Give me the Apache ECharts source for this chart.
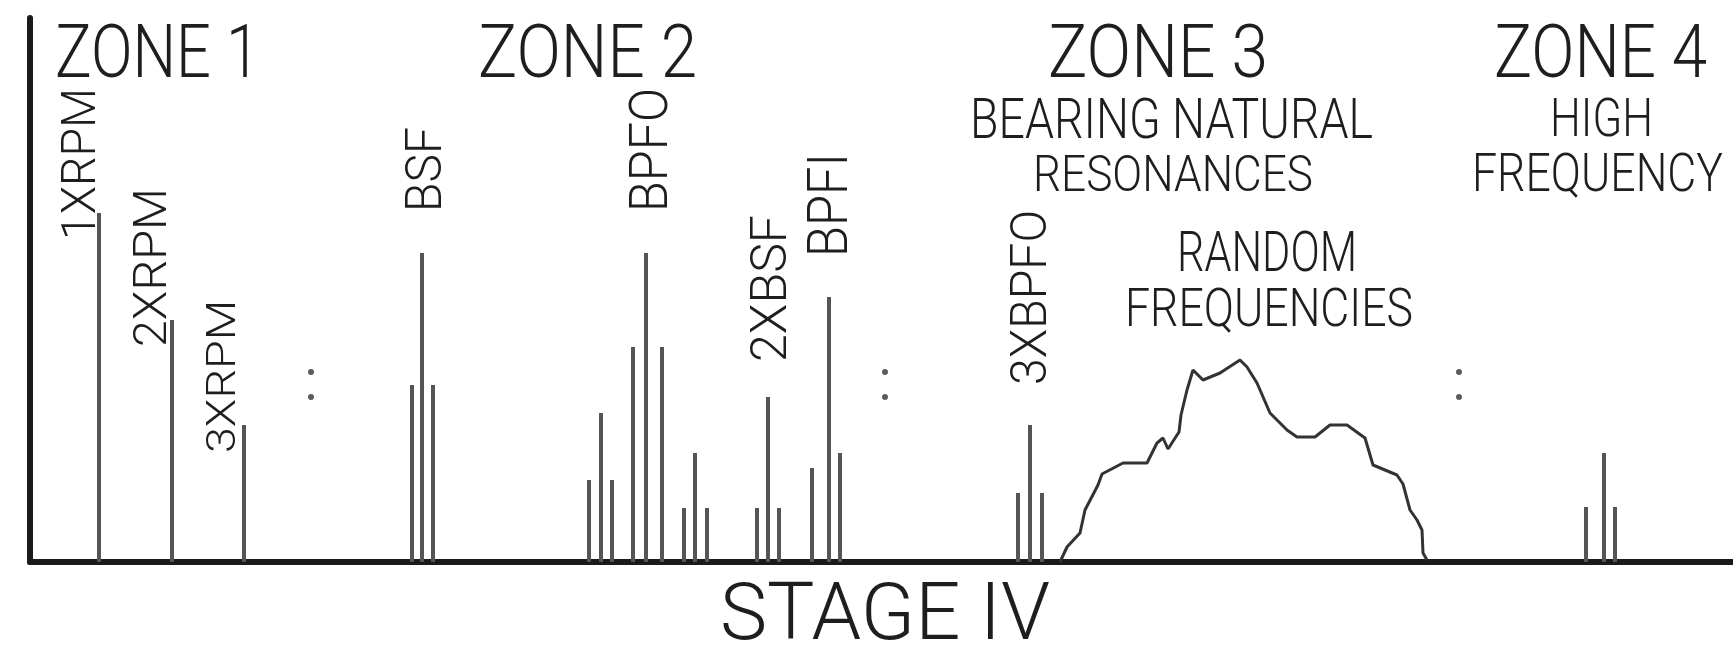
<!DOCTYPE html>
<html>
<head>
<meta charset="utf-8">
<script src="https://cdn.jsdelivr.net/npm/echarts@6/dist/echarts.min.js"></script>
<style>
html,body{margin:0;padding:0;background:#ffffff;}
#c{width:1733px;height:649px;}
</style>
</head>
<body>
<div id="c"></div>
<script>
// ---------------- DATA ----------------
// discrete spectral lines (frequency, amplitude)
const spikeFreqs = [69, 142, 214,  382, 392, 403,  559, 571, 582,  603, 616, 632,  654, 665, 677,  727, 738, 749,  782, 799, 810,  988, 1000, 1012,  1556, 1574, 1585];
const spikeAmps  = [349, 242, 137, 177, 309, 177,  82, 149, 82,    215, 309, 215,  54, 109, 54,    54, 165, 54,    94, 265, 109,  69, 137, 69,      55, 109, 55];

// random-frequency hump (bearing natural resonances)
const noiseFreqs = [1030,1037,1050,1055,1068,1072,1093,1117,1127,1133,1138,1149,1151,1157,1163,1173,1190,1210,1217,1227,1240,1257,1267,1285,1300,1317,1335,1343,1367,1373,1380,1387,1392,1393,1397];
const noiseAmps  = [0,   15,  29,  52,  77,  88,  99,  99,  119, 124, 113, 130, 147, 172, 192, 182, 189, 202, 195, 179, 149, 132, 125, 125, 137, 137, 124, 97,  87,  78,  52,  42,  32,  9,   2];

// ":" continuation dots
const dotFreqs = [281, 855, 1429];
const dotAmps  = [190, 165];

// texts
const zoneTitles  = ['ZONE 1', 'ZONE 2', 'ZONE 3', 'ZONE 4'];
const zoneNotes   = ['BEARING NATURAL', 'RESONANCES', 'RANDOM', 'FREQUENCIES', 'HIGH', 'FREQUENCY'];
const peakLabels  = ['1XRPM', '2XRPM', '3XRPM', 'BSF', 'BPFO', '2XBSF', 'BPFI', '3XBPFO'];
const peakLabelIdx = [0, 1, 2, 4, 10, 16, 19, 22];
const xAxisTitle  = 'STAGE IV';

// ---------------- LAYOUT (pixels) ----------------
const FONT = 'Roboto';
const WEIGHT = 300;
const CAP = 0.711;       // cap height / font size
const MIDSHIFT = 0.065;  // cap centre above text "middle" line (em)
// [centerX, centerY, width, capHeight]
const zoneTitleBoxes = [[157.5, 53.5, 205, 53], [587.5, 53.5, 219, 53], [1158, 53.5, 220, 53], [1600.5, 53.5, 213, 53]];
const zoneNoteBoxes  = [[1171.5, 120, 403, 40], [1173, 175, 280, 36], [1267, 253, 180, 40], [1269, 309, 288, 38], [1601.5, 119, 103, 38], [1597.5, 174, 251, 38]];
// [dx, dy from line top, length, capHeight]
const peakLabelBoxes = [[-19, -49, 152, 34], [-20.5, -52.5, 159, 33], [-21.5, -48.5, 153, 29], [3.5, -83.5, 85, 35],
                        [4, -103, 124, 38], [2.5, -108.5, 147, 35], [0, -92, 104, 40], [0, -127.5, 175, 35]];
const xTitleBox = [885, 613.5, 330, 57];

// ---------------- CHART ----------------
const chart = echarts.init(document.getElementById('c'), null, {renderer: 'canvas'});

const axisStyle = {color: '#1a1a1a', width: 6};
chart.setOption({
  animation: false,
  backgroundColor: '#ffffff',
  grid: {left: 30, right: 0, top: 18, bottom: 87},
  xAxis: {
    type: 'value', min: 0, max: 1703,
    axisLine: {show: true, onZero: false, lineStyle: axisStyle},
    axisTick: {show: false}, axisLabel: {show: false}, splitLine: {show: false}
  },
  yAxis: {
    type: 'value', min: 0, max: 544,
    axisLine: {show: true, onZero: false, lineStyle: axisStyle},
    axisTick: {show: false}, axisLabel: {show: false}, splitLine: {show: false}
  },
  series: [
    {
      type: 'bar', barWidth: 4, silent: true, z: 1,
      itemStyle: {color: '#555555'},
      data: spikeFreqs.map((f, i) => [f, spikeAmps[i]])
    },
    {
      type: 'line', showSymbol: false, silent: true, z: 2,
      lineStyle: {color: '#333333', width: 3},
      data: noiseFreqs.map((f, i) => [f, noiseAmps[i]])
    },
    {
      type: 'scatter', symbol: 'circle', symbolSize: 6, silent: true, z: 2,
      itemStyle: {color: '#333333'},
      data: dotFreqs.flatMap(f => dotAmps.map(a => [f, a]))
    }
  ]
});

// text helpers
const mctx = document.createElement('canvas').getContext('2d');
function measure(text, size) {
  mctx.font = WEIGHT + ' ' + size + 'px ' + FONT;
  return mctx.measureText(text).width;
}
function makeText(text, cx, cy, width, cap, vertical) {
  const size = cap / CAP;
  const sx = width / measure(text, size);
  const shift = MIDSHIFT * size;
  return {
    type: 'text',
    x: vertical ? cx + shift : cx,
    y: vertical ? cy : cy + shift,
    rotation: vertical ? Math.PI / 2 : 0,
    scaleX: sx,
    silent: true,
    z: 10,
    style: {
      text: text, fontSize: size, fontFamily: FONT, fontWeight: WEIGHT,
      fill: '#1e1e1e', align: 'center', verticalAlign: 'middle'
    }
  };
}

const els = [];
zoneTitles.forEach((t, i) => { const b = zoneTitleBoxes[i]; els.push(makeText(t, b[0], b[1], b[2], b[3], false)); });
zoneNotes.forEach((t, i) => { const b = zoneNoteBoxes[i]; els.push(makeText(t, b[0], b[1], b[2], b[3], false)); });
peakLabels.forEach((t, i) => {
  const k = peakLabelIdx[i];
  const p = chart.convertToPixel({gridIndex: 0}, [spikeFreqs[k], spikeAmps[k]]);
  const b = peakLabelBoxes[i];
  els.push(makeText(t, p[0] + b[0], p[1] + b[1], b[2], b[3], true));
});
els.push(makeText(xAxisTitle, xTitleBox[0], xTitleBox[1], xTitleBox[2], xTitleBox[3], false));

chart.setOption({graphic: {elements: els}});
</script>
</body>
</html>
